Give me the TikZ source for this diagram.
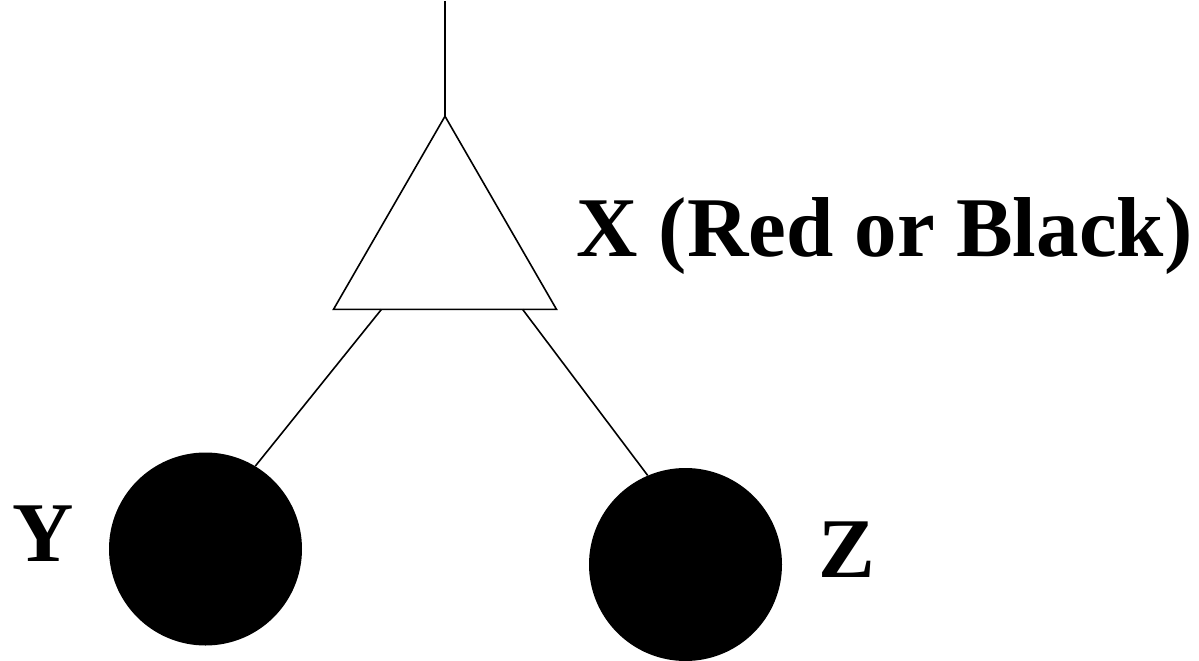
\documentclass[tikz,border=0pt]{standalone}
\usepackage{fontspec}
\setmainfont{Liberation Serif}
\usetikzlibrary{shapes.geometric,calc}
\tikzset{
  leaf/.style={circle,fill=black,draw=none,minimum size=193pt,inner sep=0pt},
  subtree/.style={regular polygon,regular polygon sides=3,draw=black,line width=1.6pt,minimum size=257.5pt,inner sep=0pt,outer sep=0pt},
  edge/.style={draw=black,line width=1.6pt},
  lbl/.style={font=\fontsize{85}{90}\selectfont\bfseries,inner sep=0pt,anchor=base west}
}
\begin{document}
\begin{tikzpicture}[x=1pt,y=-1pt]
\useasboundingbox (0,0) rectangle (1199,661);
\node[subtree] (tri) at (445,245) {};
\coordinate (topend) at (445,1);
\node[leaf] (Y) at (205.5,549) {};
\node[leaf] (Z) at (685.5,564.5) {};
\coordinate (bl) at ($(tri.corner 2)!0.215!(tri.corner 3)$);
\coordinate (br) at ($(tri.corner 2)!0.848!(tri.corner 3)$);
\draw[edge] (topend) -- (tri.corner 1);
\draw[edge] (bl) -- (Y.59);
\draw[edge] (br) -- (Z.113);
\node[lbl] (xl) at (576,256) {X (Red or Black)};
\node[lbl] (yl) at (12,561) {Y};
\node[lbl] (zl) at (818,577) {Z};
\end{tikzpicture}
\end{document}
